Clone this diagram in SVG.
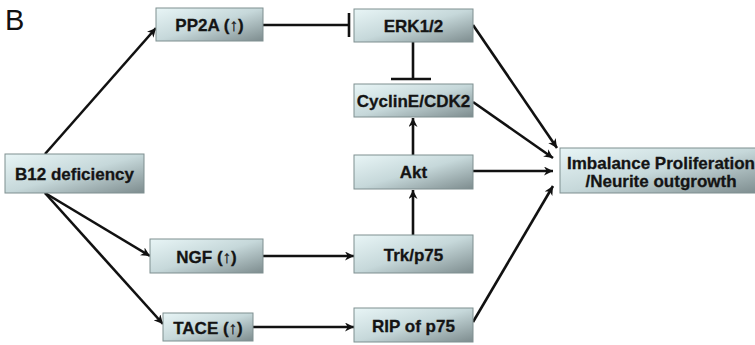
<svg xmlns="http://www.w3.org/2000/svg" width="755" height="345" viewBox="0 0 755 345">
<defs>
<linearGradient id="g" x1="0" y1="0" x2="1" y2="1">
<stop offset="0" stop-color="#e8f5f6"/>
<stop offset="0.5" stop-color="#c6d8da"/>
<stop offset="1" stop-color="#7d8c8e"/>
</linearGradient>
<marker id="arr" viewBox="0 0 10 10" refX="10" refY="5" markerWidth="9" markerHeight="9" markerUnits="userSpaceOnUse" orient="auto">
<path d="M0,0 L10,5 L0,10 L3,5 Z" fill="#111"/>
</marker>
<style>
.box{fill:url(#g);stroke:#7f8f90;stroke-width:1}
.t{font-family:"Liberation Sans",Arial,sans-serif;font-weight:bold;font-size:17px;fill:#141414;text-anchor:middle;stroke:#141414;stroke-width:0.3}
.c{stroke:#111;stroke-width:2.6;fill:none}
.a{marker-end:url(#arr)}
</style>
</defs>
<text x="5" y="30" font-family="'Liberation Sans',Arial,sans-serif" font-size="29" fill="#111">B</text>
<g id="connectors">
<line class="c a" x1="45" y1="154" x2="156" y2="28"/>
<line class="c a" x1="45" y1="193" x2="150" y2="256"/>
<line class="c a" x1="45" y1="193" x2="163" y2="324"/>
<line class="c" x1="263" y1="25" x2="349" y2="25"/>
<line class="c" x1="349" y1="13" x2="349" y2="37"/>
<line class="c" x1="413" y1="42" x2="413" y2="79"/>
<line class="c" x1="391" y1="79" x2="431" y2="79"/>
<line class="c a" x1="413" y1="155" x2="413" y2="118"/>
<line class="c a" x1="413" y1="235" x2="413" y2="190"/>
<line class="c a" x1="263" y1="256" x2="354" y2="256"/>
<line class="c a" x1="253" y1="327" x2="354" y2="327"/>
<line class="c a" x1="473" y1="25" x2="557" y2="148"/>
<line class="c a" x1="473" y1="102" x2="553" y2="158"/>
<line class="c a" x1="473" y1="171" x2="553" y2="171"/>
<line class="c a" x1="473" y1="322" x2="553" y2="186"/>
</g>
<g id="b12"><rect class="box" x="5" y="154" width="139" height="39"/><text class="t" x="74.5" y="180">B12 deficiency</text></g>
<g id="pp2a"><rect class="box" x="156" y="8" width="107" height="33"/><text class="t" x="209.5" y="30.5">PP2A (↑)</text></g>
<g id="erk"><rect class="box" x="354" y="9" width="119" height="33"/><text class="t" x="413.5" y="31.5">ERK1/2</text></g>
<g id="cyclin"><rect class="box" x="354" y="84" width="119" height="33"/><text class="t" x="413.5" y="106.5">CyclinE/CDK2</text></g>
<g id="akt"><rect class="box" x="354" y="155" width="119" height="34"/><text class="t" x="413.5" y="178">Akt</text></g>
<g id="trk"><rect class="box" x="354" y="235" width="119" height="38"/><text class="t" x="413.5" y="260.5">Trk/p75</text></g>
<g id="ngf"><rect class="box" x="150" y="239" width="113" height="34"/><text class="t" x="206.5" y="262.5">NGF (↑)</text></g>
<g id="tace"><rect class="box" x="163" y="313" width="90" height="28"/><text class="t" x="208" y="333.5">TACE (↑)</text></g>
<g id="rip"><rect class="box" x="354" y="308" width="119" height="34"/><text class="t" x="413.5" y="331.5">RIP of p75</text></g>
<g id="imbalance"><rect class="box" x="560" y="148" width="200" height="45"/><text class="t" x="661" y="169">Imbalance Proliferation</text><text class="t" x="661" y="187">/Neurite outgrowth</text></g>
</svg>
